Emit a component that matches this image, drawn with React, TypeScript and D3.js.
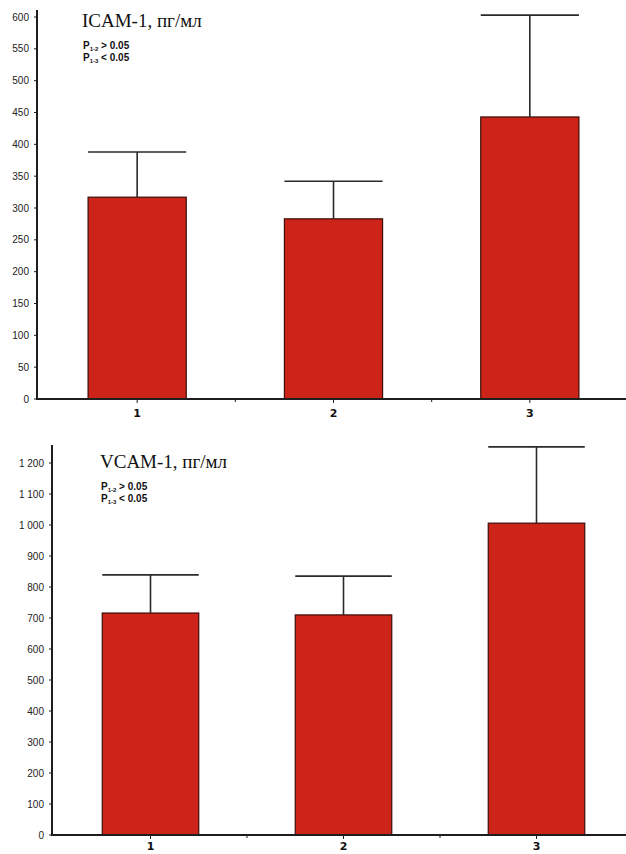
import React from "react";
import * as d3 from "d3";

// Groups on the x axis
const categories = ["1", "2", "3"];

// ICAM-1, pg/ml: mean and SD per group
const icamMeans = [317, 283, 443];
const icamSD = [71, 59, 160];
const icamTicks = [0, 50, 100, 150, 200, 250, 300, 350, 400, 450, 500, 550, 600];

// VCAM-1, pg/ml: mean and SD per group
const vcamMeans = [716, 710, 1006];
const vcamSD = [123, 125, 246];
const vcamTicks = [0, 100, 200, 300, 400, 500, 600, 700, 800, 900, 1000, 1100, 1200];

const pLines = [
  { sub: "1-2", rel: ">", val: "0.05" },
  { sub: "1-3", rel: "<", val: "0.05" },
];

const W = 626;
const H = 854;
const BAR_FILL = "#cc2419";
const INK = "#1e1e1e";

const ruLocale = d3.formatLocale({
  decimal: ",",
  thousands: "\u00a0",
  grouping: [3],
  currency: ["", " руб."],
});
const fmt = ruLocale.format(",d");

type PanelProps = {
  title: string;
  means: number[];
  sds: number[];
  ticks: number[];
  yMax: number;
  y0: number;
  yTop: number;
  axisTop: number;
  xLeft: number;
  xRight: number;
  titleX: number;
  titleY: number;
  labelOffset: number;
};

function Panel(p: PanelProps) {
  const x = d3
    .scaleBand<string>()
    .domain(categories)
    .range([p.xLeft, p.xRight])
    .paddingInner(0.5)
    .paddingOuter(0.25);
  const y = d3.scaleLinear().domain([0, p.yMax]).range([p.y0, p.yTop]);
  const step = x.step();
  const boundaries = d3.range(1, categories.length).map((i) => p.xLeft + i * step);

  return (
    <g>
      {/* bars */}
      {categories.map((c, i) => (
        <rect
          key={"b" + c}
          x={x(c)!}
          y={y(p.means[i])}
          width={x.bandwidth()}
          height={y(0) - y(p.means[i])}
          fill={BAR_FILL}
          stroke="#3a0d08"
          strokeWidth={1.2}
        />
      ))}
      {/* error bars (upper whisker with cap) */}
      {categories.map((c, i) => {
        const cx = x(c)! + x.bandwidth() / 2;
        const top = y(p.means[i] + p.sds[i]);
        return (
          <g key={"e" + c} stroke="#2a2a2a" strokeWidth={1.6}>
            <line x1={cx} x2={cx} y1={y(p.means[i])} y2={top} />
            <line x1={x(c)!} x2={x(c)! + x.bandwidth()} y1={top} y2={top} />
          </g>
        );
      })}
      {/* y axis */}
      <line x1={p.xLeft - 2} x2={p.xLeft - 2} y1={p.axisTop} y2={p.y0 + 1} stroke={INK} strokeWidth={2} />
      {p.ticks.map((t) => (
        <g key={"yt" + t}>
          <line x1={p.xLeft - 5} x2={p.xLeft - 2} y1={y(t)} y2={y(t)} stroke={INK} strokeWidth={1} />
          <text
            x={p.xLeft - 10}
            y={y(t)}
            dy="0.35em"
            textAnchor="end"
            fontFamily="'Liberation Sans', Arial, sans-serif"
            fontSize={10}
            fill="#222"
          >
            {fmt(t)}
          </text>
        </g>
      ))}
      {/* x axis */}
      <line x1={p.xLeft - 3} x2={W} y1={p.y0} y2={p.y0} stroke={INK} strokeWidth={2} />
      {categories.map((c) => {
        const cx = x(c)! + x.bandwidth() / 2;
        return (
          <g key={"xt" + c}>
            <line x1={cx} x2={cx} y1={p.y0} y2={p.y0 + 4} stroke={INK} strokeWidth={1} />
            <text
              x={cx}
              y={p.y0 + p.labelOffset}
              textAnchor="middle"
              fontFamily="'DejaVu Sans', Verdana, sans-serif"
              fontWeight="bold"
              fontSize={11}
              fill="#111"
            >
              {c}
            </text>
          </g>
        );
      })}
      {boundaries.map((bx, i) => (
        <line key={"bt" + i} x1={bx} x2={bx} y1={p.y0} y2={p.y0 + 3} stroke={INK} strokeWidth={1} />
      ))}
      {/* title and p-values */}
      <text
        x={p.titleX}
        y={p.titleY}
        fontFamily="'Liberation Serif', 'Times New Roman', serif"
        fontSize={19}
        fill="#111"
      >
        {p.title}
      </text>
      {pLines.map((l, i) => (
        <text
          key={"p" + i}
          x={p.titleX + 1}
          y={p.titleY + 22 + i * 12}
          fontFamily="'Liberation Sans', Arial, sans-serif"
          fontWeight="bold"
          fontSize={10}
          fill="#111"
        >
          P
          <tspan fontSize={6} dy={2}>
            {l.sub}
          </tspan>
          <tspan dy={-2}>{" " + l.rel + " " + l.val}</tspan>
        </text>
      ))}
    </g>
  );
}

export default function App() {
  return (
    <svg
      width={W}
      height={H}
      viewBox={`0 0 ${W} ${H}`}
      style={{ position: "absolute", left: 0, top: 0, background: "#fff" }}
    >
      <rect width={W} height={H} fill="#fff" />
      <Panel
        title="ICAM-1, пг/мл"
        means={icamMeans}
        sds={icamSD}
        ticks={icamTicks}
        yMax={600}
        y0={399}
        yTop={17}
        axisTop={10}
        xLeft={39}
        xRight={628}
        titleX={82}
        titleY={27}
        labelOffset={18}
      />
      <Panel
        title="VCAM-1, пг/мл"
        means={vcamMeans}
        sds={vcamSD}
        ticks={vcamTicks}
        yMax={1200}
        y0={835}
        yTop={463}
        axisTop={445}
        xLeft={54}
        xRight={633}
        titleX={100}
        titleY={468}
        labelOffset={15}
      />
    </svg>
  );
}
